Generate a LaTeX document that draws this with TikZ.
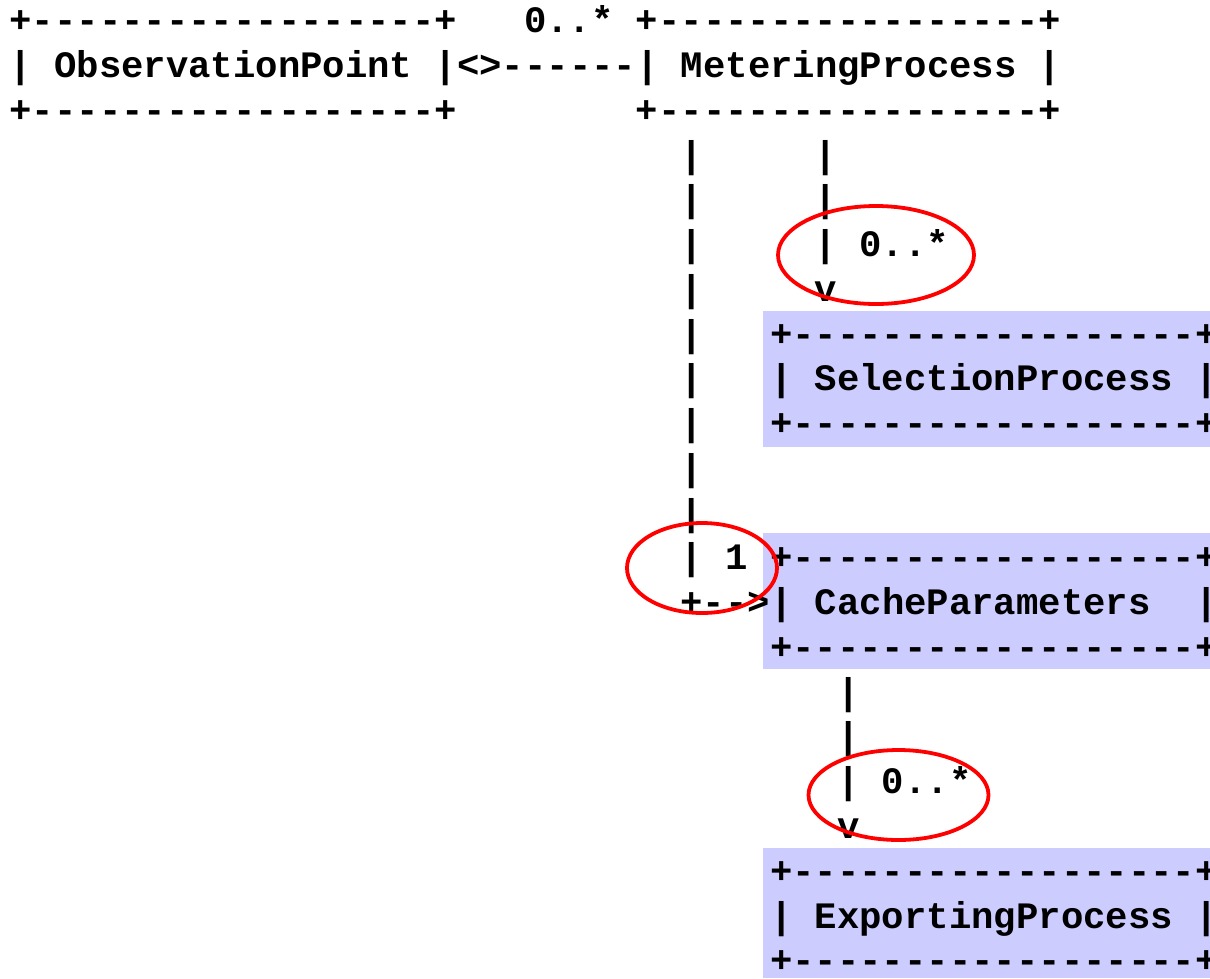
\documentclass[tikz,border=0pt]{standalone}
\usepackage{fontspec}
\setmonofont{Liberation Mono}
\definecolor{hilite}{HTML}{CCCCFF}
\definecolor{ringred}{HTML}{FF0000}
\newcommand\ascii[4]{\node[asc] (#1) at ({9.5+22.37*#2},{32.8+44.76*#3}) {#4};}
\tikzset{
  asc/.style={anchor=base west, inner sep=0pt, outer sep=0pt,
    font=\fontsize{37.3pt}{44.8pt}\selectfont\ttfamily\bfseries},
  hlbox/.style={fill=hilite},
  ring/.style={draw=ringred, line width=3.8pt}
}
\begin{document}
\begin{tikzpicture}[x=1pt,y=-1pt]
\useasboundingbox (0,0) rectangle (1210,978);
\fill[white] (0,0) rectangle (1210,978);
% highlight rectangles
\fill[hlbox] (763,311) rectangle (1210,447);
\fill[hlbox] (763,533) rectangle (1210,669);
\fill[hlbox] (763,848) rectangle (1210,978);
% text rows
\ascii{ra}{0}{0}{+------------------+}
\ascii{rb}{23}{0}{0..*}
\ascii{rc}{28}{0}{+-----------------+}
\ascii{rd}{0}{1}{| ObservationPoint |<>------| MeteringProcess |}
\ascii{re}{0}{2}{+------------------+}
\ascii{rf}{28}{2}{+-----------------+}
\ascii{l3a}{30}{3}{|}
\ascii{l3b}{36}{3}{|}
\ascii{l4a}{30}{4}{|}
\ascii{l4b}{36}{4}{|}
\ascii{l5a}{30}{5}{|}
\ascii{l5b}{36}{5}{| 0..*}
\ascii{l6a}{30}{6}{|}
\ascii{l6b}{36}{6}{v}
\ascii{l7a}{30}{7}{|}
\ascii{l7b}{34}{7}{+------------------+}
\ascii{l8a}{30}{8}{|}
\ascii{l8b}{34}{8}{| SelectionProcess |}
\ascii{l9a}{30}{9}{|}
\ascii{l9b}{34}{9}{+------------------+}
\ascii{l10a}{30}{10}{|}
\ascii{l11a}{30}{11}{|}
\ascii{l12a}{30}{12}{| 1}
\ascii{l12b}{34}{12}{+------------------+}
\ascii{l13a}{30}{13}{+-->| CacheParameters}
\ascii{l13b}{53}{13}{|}
\ascii{l14b}{34}{14}{+------------------+}
\ascii{l15a}{37}{15}{|}
\ascii{l16a}{37}{16}{|}
\ascii{l17a}{37}{17}{| 0..*}
\ascii{l18a}{37}{18}{v}
\ascii{l19b}{34}{19}{+------------------+}
\ascii{l20b}{34}{20}{| ExportingProcess |}
\ascii{l21b}{34}{21}{+------------------+}
% red marks
\draw[ring] (876,255) ellipse [x radius=98pt, y radius=49pt];
\draw[ring] (702,568) ellipse [x radius=75pt, y radius=45pt];
\draw[ring] (898.5,795) ellipse [x radius=90pt, y radius=45pt];
\end{tikzpicture}
\end{document}
